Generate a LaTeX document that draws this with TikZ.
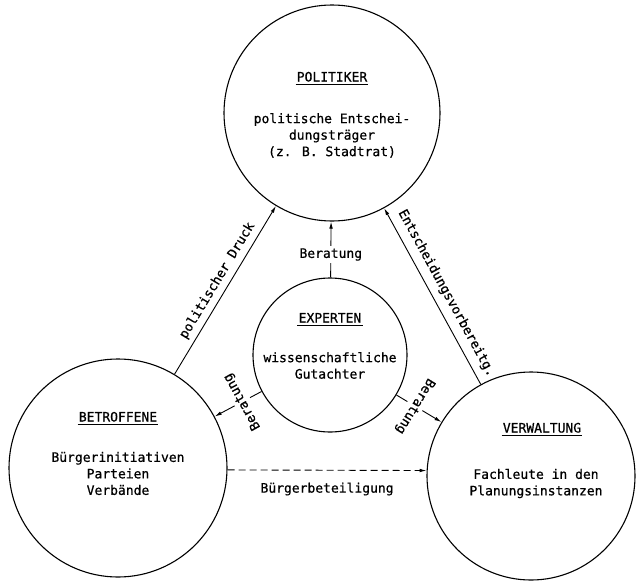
\documentclass[tikz,border=0pt]{standalone}
\usepackage{fontspec}
\setmainfont{DejaVu Sans Mono}[FakeBold=0.6]
\usetikzlibrary{arrows.meta,calc}
\begin{document}
\begin{tikzpicture}[x=1pt,y=-1pt,
  blob/.style={circle,draw,line width=1.1pt,inner sep=0pt},
  txt/.style={font=\fontsize{13}{16.5}\selectfont, align=center, inner sep=1pt},
  title/.style={txt, anchor=base},
  conn/.style={line width=0.9pt,-{Latex[length=7pt,width=3.6pt]}},
  gaplbl/.style={txt, fill=white, inner sep=2.5pt, pos=0.41},
  uline/.style={line width=0.9pt}
]
\useasboundingbox[fill=white] (0,0) rectangle (637,581);

% circles
\node[blob,minimum size=216pt] (pol) at (332,113) {};
\node[blob,minimum size=154pt] (exp) at (330,355) {};
\node[blob,minimum size=218pt] (bet) at (118,468) {};
\node[blob,minimum size=208pt] (ver) at (531,476) {};

% titles
\node[title] (polT) at (332,81.5) {POLITIKER};
\node[title] (expT) at (330,322.5) {EXPERTEN};
\node[title] (betT) at (118,421.5) {BETROFFENE};
\node[title] (verT) at (542,432.5) {VERWALTUNG};
\foreach \n in {polT,expT,betT,verT}
  \draw[uline] ($(\n.base west)+(0,3)$) -- ($(\n.base east)+(0,3)$);

% descriptions
\node[txt] (polD) at (332,135.5) {politische Entschei-\\dungsträger\\(z. B. Stadtrat)};
\node[txt] (expD) at (330,365.5) {wissenschaftliche\\Gutachter};
\node[txt] (betD) at (118,473.5) {Bürgerinitiativen\\Parteien\\Verbände};
\node[txt] (verD) at (536,483.5) {Fachleute in den\\Planungsinstanzen};

% connectors
\draw[conn] (bet) -- node[txt, sloped, above=4pt, pos=0.52] (lpd) {politischer Druck} (pol);
\draw[conn] (ver) -- node[txt, sloped, above=6pt, pos=0.48] (lev) {Entscheidungsvorbereitg.} (pol);
\draw[conn, dash pattern=on 7pt off 4pt] (bet.-1.9) -- node[txt, below=11pt] (lbb) {Bürgerbeteiligung} (ver.177.6);

\draw[conn] (exp) -- node[gaplbl] (lb1) {Beratung} (pol);
\draw[conn] (exp) -- node[gaplbl, rotate=119] (lb2) {Beratung} (bet);
\draw[conn] (exp) -- node[gaplbl, rotate=-121.5] (lb3) {Beratung} (ver);
\end{tikzpicture}
\end{document}
